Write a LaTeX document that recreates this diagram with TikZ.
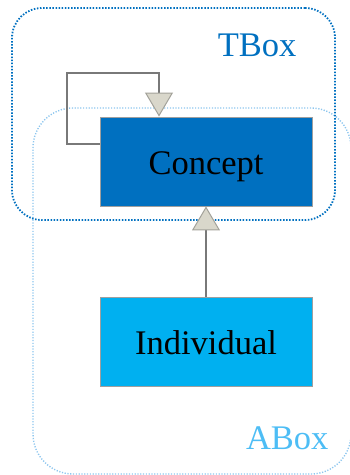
\documentclass[tikz,border=0pt]{standalone}
\usepackage{fontspec}
\setmainfont{Liberation Serif}
\usetikzlibrary{arrows.meta}
\definecolor{tboxblue}{HTML}{0070C0}
\definecolor{aboxline}{HTML}{8DC6EE}
\definecolor{aboxtext}{HTML}{4DBDF5}
\definecolor{indfill}{HTML}{00B0F0}
\definecolor{tipfill}{HTML}{D9D7CB}
\definecolor{tipline}{HTML}{A3A29A}
\tikzset{
  bigtext/.style={font=\fontsize{34.5}{40}\selectfont},
  region/.style={rectangle, inner sep=0pt},
  tboxframe/.style={region, draw=tboxblue, line width=1.8pt, dash pattern=on 1.5pt off 1.6pt, rounded corners=30pt},
  aboxframe/.style={region, draw=aboxline, line width=1.4pt, dash pattern=on 1.2pt off 1.6pt, rounded corners=40pt},
  classbox/.style={rectangle, draw=gray!75, line width=0.9pt, minimum width=212pt, minimum height=89pt, inner sep=0pt,
    text height=26pt, text depth=0pt, bigtext, text=black},
  generalize/.style={draw=gray!95!black, line width=2pt,
    -{Triangle[open, length=24pt, width=28pt, fill=tipfill, color=tipline, line width=1pt]}},
}
\begin{document}
\begin{tikzpicture}[x=1pt, y=-1pt]
  \useasboundingbox (0,0) rectangle (349,475);
  % ABox and TBox regions
  \node[aboxframe, minimum width=318pt, minimum height=366pt] (abox) at (192,291) {};
  \node[tboxframe, minimum width=323pt, minimum height=212pt] (tbox) at (173.5,114) {};
  \node[bigtext, text=tboxblue, anchor=base east] (tboxlabel) at (300,56) {TBox};
  \node[bigtext, text=aboxtext, anchor=base east] (aboxlabel) at (332,449) {ABox};
  % classes
  \node[classbox, fill=tboxblue] (concept) at (206,161.5) {Concept};
  \node[classbox, fill=indfill] (individual) at (206,341.5) {Individual};
  % self-referencing generalization on Concept
  \coordinate (l1) at (67,144);
  \coordinate (l2) at (67,73);
  \coordinate (l3) at (159,73);
  \draw[generalize] ([yshift=17.5pt]concept.west) -- (l1) -- (l2) -- (l3) -- ([xshift=-47pt]concept.north);
  % Individual specializes Concept
  \draw[generalize] (individual.north) -- (concept.south);
\end{tikzpicture}
\end{document}
